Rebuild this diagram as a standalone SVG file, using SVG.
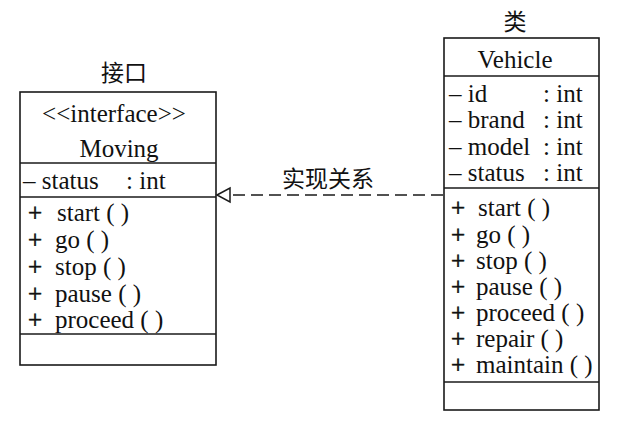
<svg xmlns="http://www.w3.org/2000/svg" width="620" height="432" viewBox="0 0 620 432">
<defs>
<style>
.box{fill:none;stroke:#1a1a1a;stroke-width:1.6}
.t{font-family:"Liberation Serif","Noto Sans CJK SC",serif;font-size:25px;fill:#111}
.p{font-family:"Liberation Serif",serif;font-size:25px;fill:#111;stroke:#111;stroke-width:0.6}
.c{font-family:"Noto Sans CJK SC","Liberation Serif",serif;font-size:23px;fill:#111}
.m{text-anchor:middle}
.dash{fill:none;stroke:#1a1a1a;stroke-width:1.5;stroke-dasharray:12 6}
</style>
</defs>
<rect width="620" height="432" fill="#fff"/>

<g id="moving">
<text class="c m" x="124" y="81">接口</text>
<rect class="box" x="20" y="92" width="196" height="273"/>
<line class="box" x1="20" y1="163" x2="216" y2="163"/>
<line class="box" x1="20" y1="197" x2="216" y2="197"/>
<line class="box" x1="20" y1="334" x2="216" y2="334"/>
<text class="t m" x="114" y="122">&lt;&lt;interface&gt;&gt;</text>
<text class="t m" x="119" y="157">Moving</text>
<text class="t" x="23" y="189">– status</text>
<text class="t" x="126" y="189">: int</text>
<text class="p" x="28" y="221">+</text><text class="t" x="57" y="221">start ( )</text>
<text class="p" x="28" y="248">+</text><text class="t" x="55" y="248">go ( )</text>
<text class="p" x="28" y="275">+</text><text class="t" x="55" y="275">stop ( )</text>
<text class="p" x="28" y="302">+</text><text class="t" x="55" y="302">pause ( )</text>
<text class="p" x="28" y="328">+</text><text class="t" x="55" y="328">proceed ( )</text>
</g>

<g id="vehicle">
<text class="c m" x="515" y="30">类</text>
<rect class="box" x="444" y="38" width="155" height="372"/>
<line class="box" x1="444" y1="76" x2="599" y2="76"/>
<line class="box" x1="444" y1="188" x2="599" y2="188"/>
<line class="box" x1="444" y1="382" x2="599" y2="382"/>
<text class="t m" x="515" y="68">Vehicle</text>
<text class="t" x="449" y="102">– id</text><text class="t" x="543" y="102">: int</text>
<text class="t" x="449" y="128">– brand</text><text class="t" x="543" y="128">: int</text>
<text class="t" x="449" y="155">– model</text><text class="t" x="543" y="155">: int</text>
<text class="t" x="449" y="181">– status</text><text class="t" x="543" y="181">: int</text>
<text class="p" x="451" y="216">+</text><text class="t" x="478" y="216">start ( )</text>
<text class="p" x="451" y="243">+</text><text class="t" x="476" y="243">go ( )</text>
<text class="p" x="451" y="269">+</text><text class="t" x="476" y="269">stop ( )</text>
<text class="p" x="451" y="295">+</text><text class="t" x="476" y="295">pause ( )</text>
<text class="p" x="451" y="321">+</text><text class="t" x="476" y="321">proceed ( )</text>
<text class="p" x="451" y="347">+</text><text class="t" x="476" y="347">repair ( )</text>
<text class="p" x="451" y="373">+</text><text class="t" x="476" y="373">maintain ( )</text>
</g>

<g id="connectors">
<line class="dash" x1="443" y1="195" x2="230" y2="195"/>
<path d="M217,195 L230,188 L230,202 Z" fill="#fff" stroke="#1a1a1a" stroke-width="1.5"/>
<text class="c m" x="328" y="187">实现关系</text>
</g>
</svg>
